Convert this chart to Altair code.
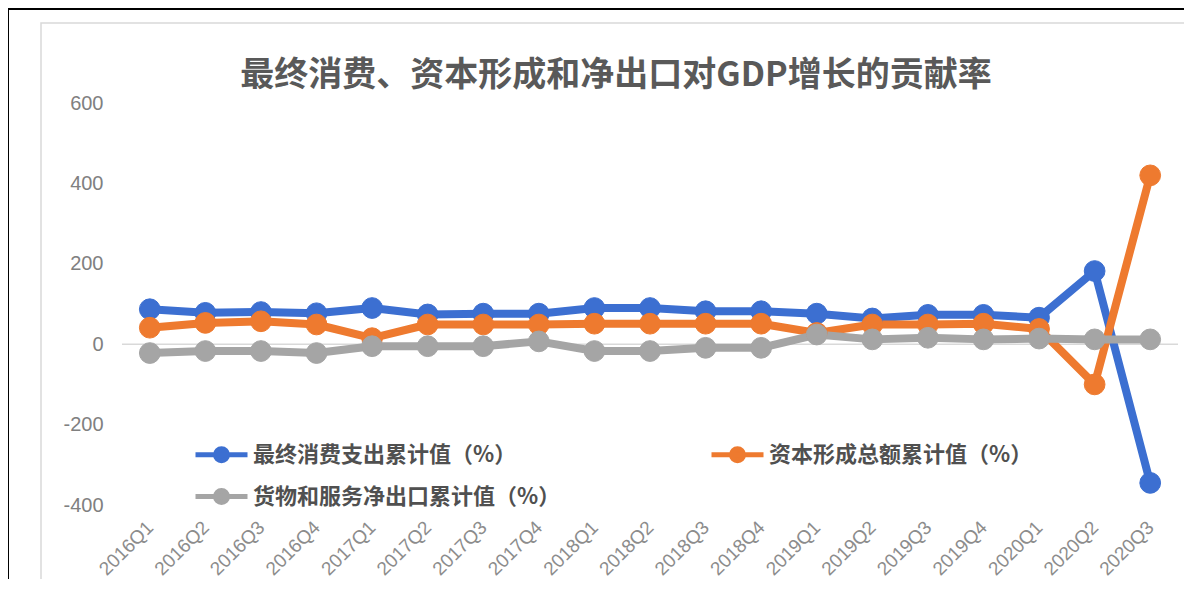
import altair as alt
import pandas as pd

quarters = ["2016Q1", "2016Q2", "2016Q3", "2016Q4", "2017Q1", "2017Q2", "2017Q3", "2017Q4",
            "2018Q1", "2018Q2", "2018Q3", "2018Q4", "2019Q1", "2019Q2", "2019Q3", "2019Q4",
            "2020Q1", "2020Q2", "2020Q3"]
consumption = [87, 78, 80, 77, 90, 74, 76, 76, 90, 90, 82, 82, 76, 64, 73, 73, 66, 182, -345]
capital = [41, 53, 57, 49, 15, 49, 49, 49, 51, 51, 51, 51, 28, 49, 49, 51, 38, -100, 420]
net_exports = [-22, -17, -17, -22, -5, -5, -5, 7, -17, -17, -9, -9, 24, 12, 16, 12, 14, 12, 12]

series_names = ["最终消费支出累计值（%）", "资本形成总额累计值（%）", "货物和服务净出口累计值（%）"]
colors = ["#3c6fd1", "#ee7a2f", "#a5a5a5"]
title_text = "最终消费、资本形成和净出口对GDP增长的贡献率"
y_ticks = [-400, -200, 0, 200, 400, 600]

rows = []
for name, vals in zip(series_names, [consumption, capital, net_exports]):
    for q, v in zip(quarters, vals):
        rows.append({"q": q, "v": v, "s": name})
df = pd.DataFrame(rows)

cjk = "Noto Sans CJK SC"
num_font = "Liberation Sans"

x_enc = alt.X("q:N", sort=quarters, scale=alt.Scale(domain=quarters),
              axis=alt.Axis(title=None, labelAngle=-45, labelAlign="right", labelBaseline="middle",
                            labelFontSize=19, labelColor="#8c8c8c", labelFont=num_font,
                            ticks=False, domain=False, grid=False, labelPadding=19))
y_enc = alt.Y("v:Q", scale=alt.Scale(domain=[-400, 600], nice=False),
              axis=alt.Axis(title=None, values=y_ticks, labelFontSize=20, labelColor="#808080",
                            labelFont=num_font, ticks=False, domain=False, grid=False,
                            labelPadding=19,
                            labelExpr="replace(datum.label, '\u2212', '-')"))

# legend is laid out column by column: column 1 = consumption, net exports; column 2 = capital
legend_order = [series_names[0], series_names[2], series_names[1]]
legend_colors = [colors[0], colors[2], colors[1]]

sym_path = "M-1.3,0L1.3,0M-0.3,0A0.3,0.3,0,1,1,0.3,0A0.3,0.3,0,1,1,-0.3,0Z"
legend = alt.Legend(title=None, orient="none", legendX=77, legendY=329, columns=2,
                    columnPadding=140, rowPadding=3, symbolSize=1600, symbolStrokeWidth=5,
                    symbolType=sym_path, labelOffset=9, labelFontSize=22, labelFont=cjk,
                    labelColor="#505050", labelFontWeight="bold", labelLimit=0, padding=0,
                    symbolOpacity=1)
color_scale = alt.Scale(domain=legend_order, range=legend_colors)

one = pd.DataFrame({"a": [0]})
black_top = alt.Chart(one).mark_rule(color="#000000", strokeWidth=2).encode(
    x=alt.value(-114), x2=alt.value(1070), y=alt.value(-94))
black_left = alt.Chart(one).mark_rule(color="#000000", strokeWidth=2).encode(
    x=alt.value(-114), y=alt.value(-94), y2=alt.value(490))
frame = alt.Chart(one).mark_rect(fillOpacity=0, stroke="#d9d9d9", strokeWidth=1.5).encode(
    x=alt.value(-81), x2=alt.value(1066), y=alt.value(-80), y2=alt.value(485))

zero = alt.Chart(pd.DataFrame({"v": [0]})).mark_rule(color="#d9d9d9", strokeWidth=1.5).encode(
    y=alt.Y("v:Q", scale=alt.Scale(domain=[-400, 600], nice=False)))

lines = alt.Chart(df).mark_line(strokeWidth=8, strokeJoin="round", strokeCap="round").encode(
    x=x_enc, y=y_enc,
    stroke=alt.Stroke("s:N", scale=color_scale, legend=legend),
)
points = alt.Chart(df).mark_point(filled=True, size=430, opacity=1, strokeWidth=1).encode(
    x=x_enc, y=y_enc,
    fill=alt.Fill("s:N", scale=color_scale, legend=legend),
    stroke=alt.Stroke("s:N", scale=color_scale, legend=legend),
)

chart = alt.layer(black_top, black_left, frame, zero, lines, points).properties(
    width=1056, height=402,
    padding={"left": 114, "top": 95, "right": 6, "bottom": 74},
    autosize=alt.AutoSizeParams(type="none"),
    title=alt.Title(title_text, fontSize=34, font=cjk, fontWeight="bold", color="#595959",
                    anchor="middle", dx=-34, dy=129, offset=10, baseline="bottom", frame="group"),
    background="#ffffff",
).configure_view(stroke=None)

chart.save("out.html", embed_options={"renderer": "svg", "actions": False})
